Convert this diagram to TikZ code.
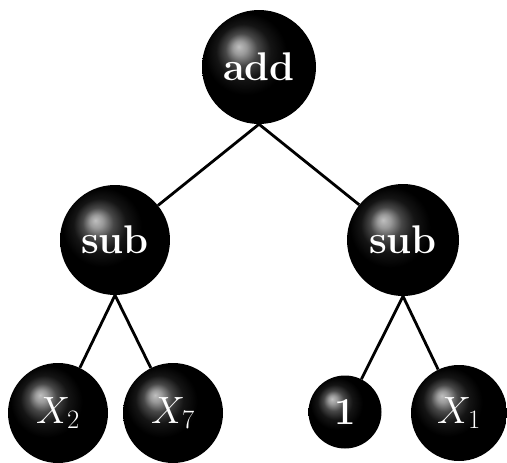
\RequirePackage{fix-cm}
\documentclass[tikz,border=0pt]{standalone}
\pgfdeclareradialshading{darkball}{\pgfqpoint{-9bp}{9bp}}{%
  color(0bp)=(black!25); color(3bp)=(black!40); color(7bp)=(black!72);
  color(12bp)=(black!92); color(18bp)=(black); color(50bp)=(black)}
\begin{document}
\begin{tikzpicture}[x=1pt,y=-1pt,
  ballnode/.style={circle, shading=darkball, text=white, inner sep=0pt},
  wordfont/.style={font=\fontsize{40}{46}\selectfont\bfseries},
  leaffont/.style={font=\fontsize{38}{44}\selectfont},
  edgeline/.style={line width=2.8pt, black}]
\useasboundingbox (0,0) rectangle (507,463);
\node[ballnode, wordfont, minimum size=114pt] (add) at (259,67) {add};
\node[ballnode, wordfont, minimum size=110pt] (subL) at (115,240) {sub};
\node[ballnode, wordfont, minimum size=112pt] (subR) at (403,240) {sub};
\node[ballnode, leaffont, minimum size=100pt] (x2) at (58,413) {$X_2$};
\node[ballnode, leaffont, minimum size=100pt] (x7) at (173,413) {$X_7$};
\node[ballnode, leaffont, minimum size=73pt] (one) at (345,412) {\bfseries 1};
\node[ballnode, leaffont, minimum size=96pt] (x1) at (459,413) {$X_1$};
\draw[edgeline] (add.south) -- (subL);
\draw[edgeline] (add.south) -- (subR);
\draw[edgeline] (subL.south) -- (x2);
\draw[edgeline] (subL.south) -- (x7);
\draw[edgeline] (subR.south) -- (one);
\draw[edgeline] (subR.south) -- (x1);
\end{tikzpicture}
\end{document}
